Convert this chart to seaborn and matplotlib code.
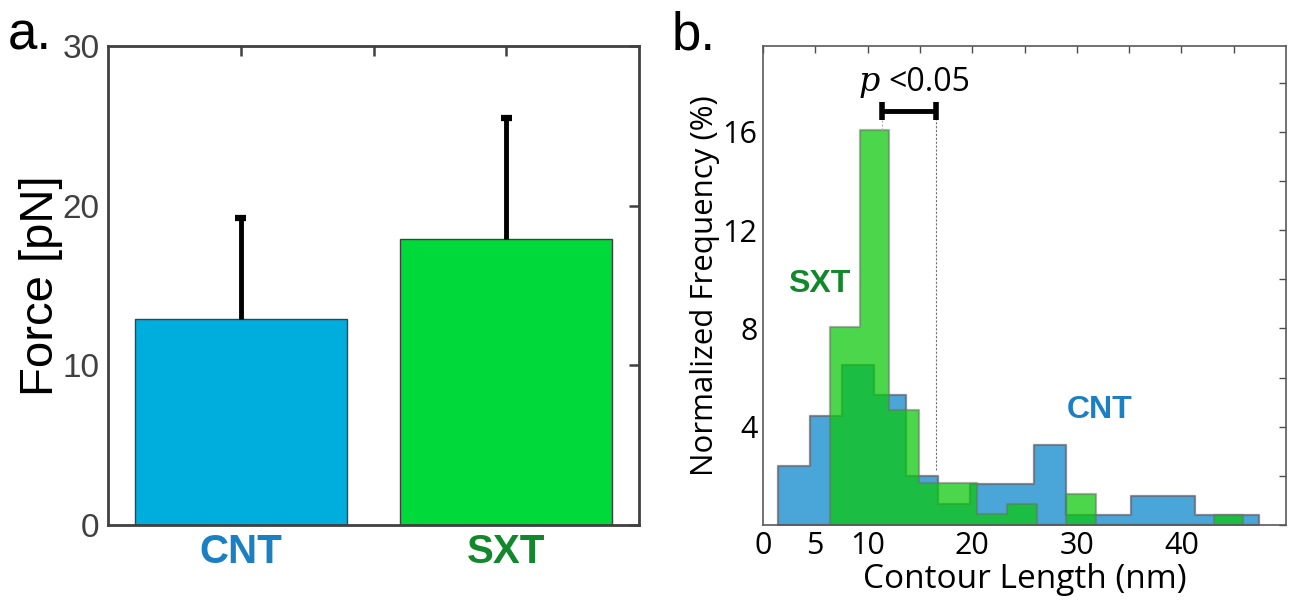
import numpy as np
import seaborn as sns
import matplotlib.pyplot as plt

# panel a: mean force with upward error bars
groups = ['CNT', 'SXT']
force_mean = [12.9, 17.9]
force_sd = [6.3, 7.6]
bar_colors = ['#00AEDD', '#00D93A']
label_colors = ['#1B7FC4', '#12882C']

# panel b: normalized contour length histograms (%)
cnt_edges = [1.4, 4.45, 7.55, 10.6, 13.7, 16.75, 19.8, 22.9, 25.95, 29.0,
             32.1, 35.15, 38.2, 41.3, 44.35, 47.45]
cnt_freq = [2.4, 4.45, 6.5, 5.3, 2.0, 0.85, 1.65, 1.65, 3.25, 0.4,
            0.4, 1.2, 1.2, 0.4, 0.4]
sxt_edges = [6.45, 9.25, 12.05, 14.9, 17.7, 20.5, 23.35, 26.15, 29.0, 31.8,
             34.6, 37.45, 40.25, 43.1, 45.9]
sxt_freq = [8.05, 16.1, 4.7, 1.7, 1.7, 0.45, 0.85, 0.0, 1.25, 0.0,
            0.0, 0.0, 0.0, 0.4]
x_tick_labels = ['0', '5', '10', '', '20', '', '30', '', '40', '']
y_tick_labels = ['', '', '4', '', '8', '', '12', '', '16', '']
p_span = [11.35, 16.5]

sns.set_style('white')
plt.rcParams['font.family'] = ['Liberation Sans', 'DejaVu Sans']
plt.rcParams['text.color'] = 'black'
plt.rcParams['axes.labelcolor'] = 'black'
plt.rcParams['xtick.color'] = 'black'
plt.rcParams['ytick.color'] = 'black'
open_sans = ['Open Sans', 'DejaVu Sans']

W, H = 1291, 601
fig = plt.figure(figsize=(W / 100, H / 100), dpi=100)
ax1 = fig.add_axes([108 / W, 1 - 525 / H, 531 / W, 479 / H])
ax2 = fig.add_axes([763 / W, 1 - 525 / H, 523 / W, 479 / H])

# ---- a.
sns.barplot(x=groups, y=force_mean, hue=groups, palette=bar_colors, legend=False,
            errorbar=None, width=0.8, saturation=1, edgecolor='0.25', linewidth=1, ax=ax1)
xs = np.arange(len(groups))
tops = np.array(force_mean) + np.array(force_sd)
ax1.vlines(xs, force_mean, tops, color='black', lw=3.5, zorder=5)
ax1.hlines(tops, xs - 0.02, xs + 0.02, color='black', lw=4.5, zorder=5)
ax1.set_xlim(-0.5, 1.5)
ax1.set_ylim(0, 30)
ax1.set_yticks([0, 10, 20, 30])
ax1.set_xticks([0, 0.5, 1])
ax1.set_xticklabels(['CNT', '', 'SXT'], fontsize=29, fontweight='bold')
for lab, c in zip([ax1.get_xticklabels()[0], ax1.get_xticklabels()[2]], label_colors):
    lab.set_color(c)
ax1.tick_params(axis='y', labelsize=24, labelcolor='#404040')
ax1.tick_params(direction='in', top=True, right=True, length=7, width=1.8,
                color='#404040', pad=6)
ax1.set_ylabel('Force [pN]', fontsize=34, labelpad=0)
ax1.set_xlabel('')
for s in ax1.spines.values():
    s.set_color('#404040')
    s.set_linewidth(2)

# ---- b.
cnt_mid = [(a + b) / 2 for a, b in zip(cnt_edges[:-1], cnt_edges[1:])]
sxt_mid = [(a + b) / 2 for a, b in zip(sxt_edges[:-1], sxt_edges[1:])]
sns.histplot(x=cnt_mid, weights=cnt_freq, bins=cnt_edges, element='step', fill=True,
             color='#0785CC', alpha=0.73, edgecolor=(0.4, 0.4, 0.45, 0.75),
             linewidth=1.6, ax=ax2)
sns.histplot(x=sxt_mid, weights=sxt_freq, bins=sxt_edges, element='step', fill=True,
             color='#0AC70A', alpha=0.73, edgecolor=(0.4, 0.45, 0.4, 0.55),
             linewidth=1.6, ax=ax2)
ax2.set_xlim(0, 50)
ax2.set_ylim(0, 19.5)
ax2.set_xticks(np.arange(0, 50, 5))
ax2.set_xticklabels(x_tick_labels, family=open_sans, fontsize=22)
ax2.set_yticks(np.arange(0, 20, 2))
ax2.set_yticklabels(y_tick_labels, family=open_sans, fontsize=22)
ax2.tick_params(direction='in', top=True, right=True, length=5, width=1, color='0.3',
                labelcolor='black', pad=4)
ax2.set_xlabel('Contour Length (nm)', family=open_sans, fontsize=24, labelpad=2)
ax2.set_ylabel('Normalized Frequency (%)', family=open_sans, fontsize=22.5, labelpad=2)
for s in ax2.spines.values():
    s.set_color('0.35')
    s.set_linewidth(1.2)

# p-value bracket
yb = 16.85
ax2.plot(p_span, [yb, yb], color='black', lw=3.5, solid_capstyle='butt', zorder=6)
ax2.vlines(p_span, yb - 0.35, yb + 0.35, color='black', lw=4, zorder=6)
ax2.vlines(p_span[1], 2.25, yb, color='0.45', lw=0.8, ls=(0, (2, 1.5)), zorder=4)
ax2.vlines(p_span[0], sxt_freq[1], yb, color='0.7', lw=0.8, ls=(0, (2, 1.5)), zorder=4)
ax2.text(9.1, 17.65, 'p', family=['DejaVu Serif'], style='italic', fontsize=24)
ax2.text(12.0, 17.65, '<0.05', family=open_sans, fontsize=23)

ax2.text(5.4, 9.8, 'SXT', color=label_colors[1], fontsize=23, fontweight='bold',
         ha='center', va='center')
ax2.text(32.2, 4.7, 'CNT', color=label_colors[0], fontsize=23, fontweight='bold',
         ha='center', va='center')

fig.text(8 / W, 1 - 50 / H, 'a.', fontsize=38)
fig.text(672 / W, 1 - 50 / H, 'b.', fontsize=38)

fig.savefig('out.png', dpi=100)
